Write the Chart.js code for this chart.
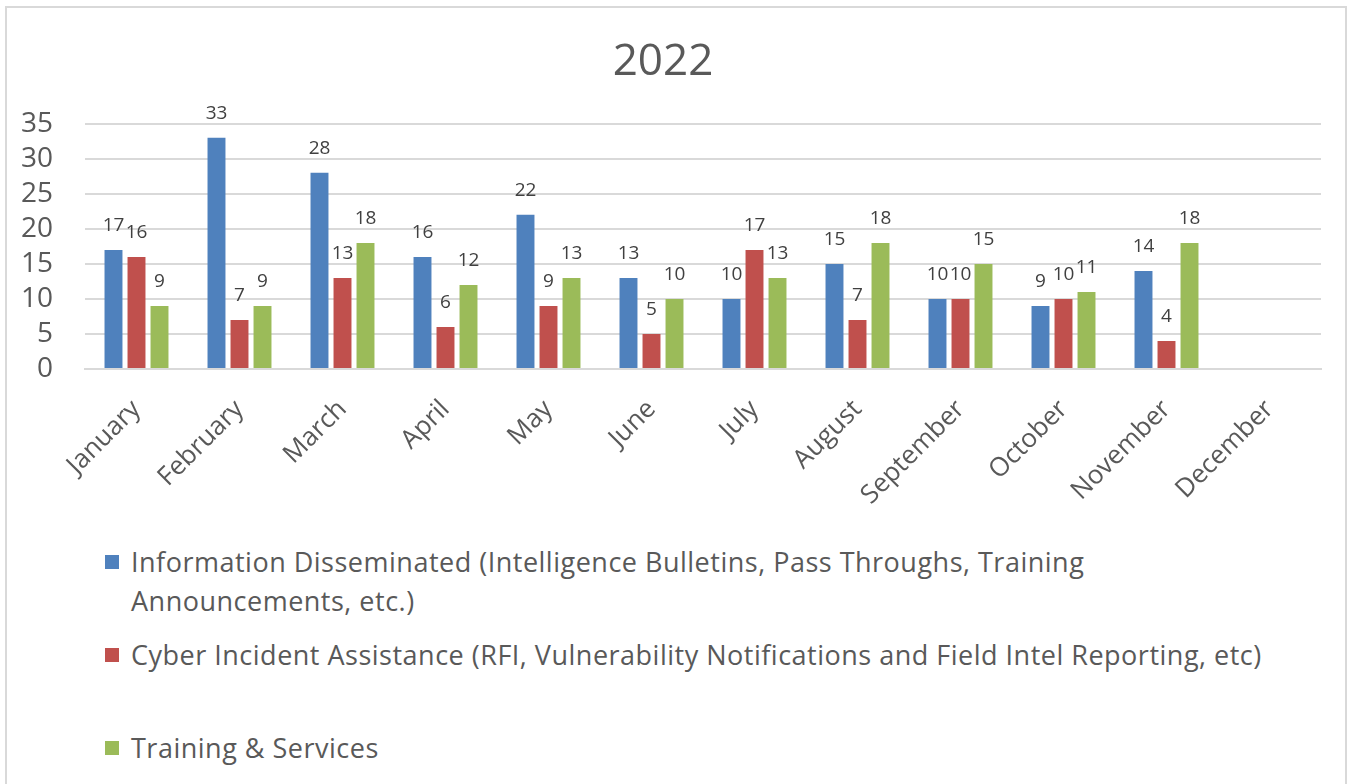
<!DOCTYPE html>
<html>
<head>
<meta charset="utf-8">
<script src="https://cdn.jsdelivr.net/npm/chart.js@4.4.1/dist/chart.umd.min.js"></script>
<style>
  html, body { margin: 0; padding: 0; background: #ffffff; }
  #wrap { position: relative; width: 1350px; height: 784px; overflow: hidden; background: #fff; }
  #frame { position: absolute; left: 5px; top: 6px; width: 1342px; height: 800px; border: 2px solid #d9d9d9; box-sizing: border-box; }
  #box { position: absolute; left: 5px; top: 6px; width: 1340px; height: 520px; }
  #legend { position: absolute; left: 105px; top: 542px; width: 1176px; font-family: "Open Sans", Lato, sans-serif; font-size: 27px; letter-spacing: 0.5px; color: #595959; }
  .item { position: relative; height: 93px; padding-left: 26px; line-height: 39px; }
  .swatch { position: absolute; left: 0; top: 13px; width: 14px; height: 14px; }
</style>
</head>
<body>
<div id="wrap">
  <div id="frame"></div>
  <div id="box"><canvas id="c"></canvas></div>
  <div id="legend"></div>
</div>
<script>
const chartTitle = "2022";
const months = ["January","February","March","April","May","June","July","August","September","October","November","December"];
const seriesNames = [
  "Information Disseminated (Intelligence Bulletins, Pass Throughs, Training Announcements, etc.)",
  "Cyber Incident Assistance (RFI, Vulnerability Notifications and Field Intel Reporting, etc)",
  "Training & Services"
];
const infoDisseminated = [17, 33, 28, 16, 22, 13, 10, 15, 10, 9, 14, null];
const cyberAssistance  = [16, 7, 13, 6, 9, 5, 17, 7, 10, 10, 4, null];
const trainingServices = [9, 9, 18, 12, 13, 10, 13, 18, 15, 11, 18, null];
const seriesColors = ["#4f81bd", "#c0504d", "#9bbb59"];
const yMin = 0, yMax = 35, yStep = 5;

const FONT = '"Open Sans", Lato, sans-serif';
const TEXT = '#595959';

const valueLabels = {
  id: 'valueLabels',
  afterDatasetsDraw(chart) {
    const ctx = chart.ctx;
    ctx.save();
    ctx.font = '19px ' + FONT;
    ctx.fillStyle = '#404040';
    ctx.textAlign = 'center';
    ctx.textBaseline = 'middle';
    chart.data.datasets.forEach((ds, i) => {
      const meta = chart.getDatasetMeta(i);
      meta.data.forEach((bar, j) => {
        const v = ds.data[j];
        if (v === null || v === undefined) return;
        ctx.fillText(String(v), bar.x, bar.y - 24);
      });
    });
    ctx.restore();
  }
};

const data = [infoDisseminated, cyberAssistance, trainingServices];
const chart = new Chart(document.getElementById('c'), {
  type: 'bar',
  data: {
    labels: months,
    datasets: data.map((d, i) => ({
      label: seriesNames[i],
      data: d,
      backgroundColor: seriesColors[i],
      borderWidth: 0,
      barPercentage: 0.78,
      categoryPercentage: 0.67
    }))
  },
  options: {
    responsive: true,
    maintainAspectRatio: false,
    animation: false,
    layout: { padding: { left: 0, right: 24, top: 0, bottom: 0 } },
    plugins: {
      legend: { display: false },
      tooltip: { enabled: false },
      title: {
        display: true,
        text: chartTitle,
        color: TEXT,
        font: { family: FONT, size: 44, weight: 'normal' },
        padding: { top: 30, bottom: 35 }
      }
    },
    scales: {
      x: {
        grid: { display: false, drawTicks: false },
        border: { display: true, color: '#d9d9d9', width: 2 },
        ticks: {
          color: TEXT,
          font: { family: FONT, size: 26 },
          minRotation: 45, maxRotation: 45,
          padding: 25,
          autoSkip: false
        },
        afterFit(scale) { scale.height = 157; }
      },
      y: {
        min: yMin, max: yMax,
        grid: { color: '#d9d9d9', lineWidth: 2, drawTicks: false },
        border: { display: false },
        ticks: {
          stepSize: yStep,
          autoSkip: false,
          color: TEXT,
          font: { family: FONT, size: 28, lineHeight: 1 },
          padding: 32
        },
        afterFit(scale) { scale.width = 80; }
      }
    }
  },
  plugins: [valueLabels]
});

const legend = document.getElementById('legend');
chart.data.datasets.forEach((ds) => {
  const item = document.createElement('div');
  item.className = 'item';
  const sw = document.createElement('span');
  sw.className = 'swatch';
  sw.style.background = ds.backgroundColor;
  item.appendChild(sw);
  const t = document.createElement('span');
  t.textContent = ds.label;
  item.appendChild(t);
  legend.appendChild(item);
});
</script>
</body>
</html>
